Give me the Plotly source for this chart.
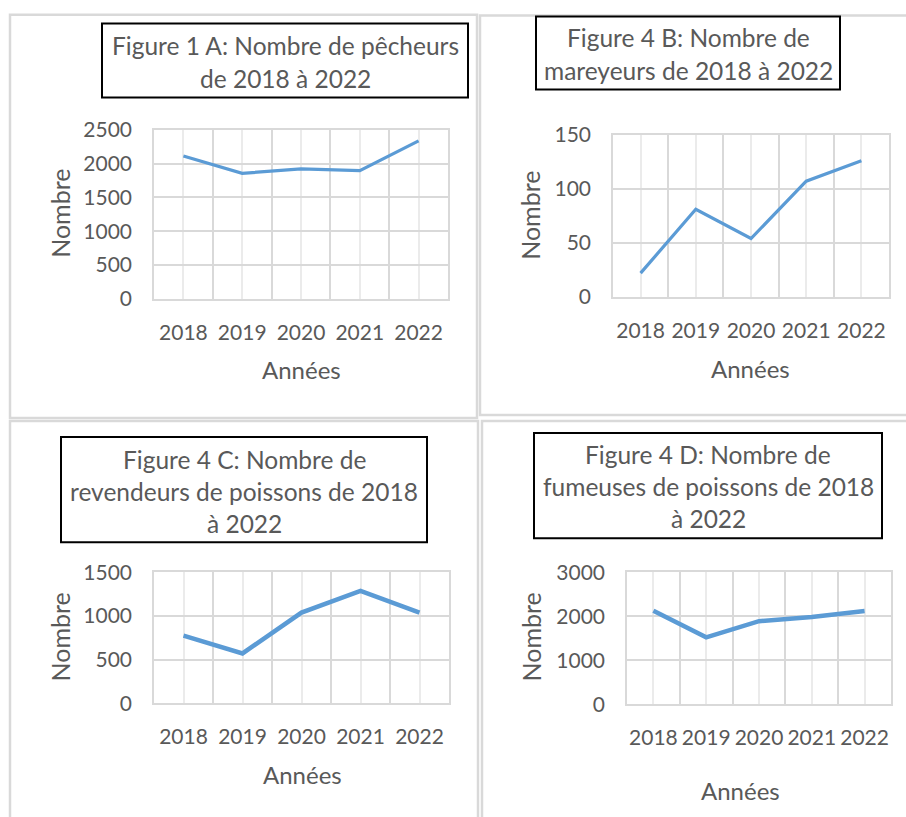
import plotly.graph_objects as go

# ---------------- data ----------------
years = [2018, 2019, 2020, 2021, 2022]
pecheurs = [2110, 1855, 1920, 1895, 2335]
mareyeurs = [22, 81, 54, 107, 126]
revendeurs = [775, 572, 1040, 1288, 1038]
fumeuses = [2130, 1525, 1890, 1985, 2120]

title_a = ["Figure 1 A: Nombre de pêcheurs", "de 2018 à 2022"]
title_b = ["Figure 4 B: Nombre de", "mareyeurs de 2018 à 2022"]
title_c = ["Figure 4 C: Nombre de", "revendeurs de poissons de 2018", "à 2022"]
title_d = ["Figure 4 D: Nombre de", "fumeuses de poissons de 2018", "à 2022"]
y_title = "Nombre"
x_title = "Années"
y_max = [2500, 150, 1500, 3000]
y_step = [500, 50, 500, 1000]

# ---------------- layout geometry (pixels) ----------------
W, H = 906, 817
OY, SY = 15.5, 0.968   # vertical correction of the captured picture
panels = [
    dict(series=pecheurs, lines=title_a, plot=(154, 448, 131, 300), box=(102, 468, 25, 99),
         line_y=(47, 80), ytitle=(60, 215), xtitle=(301, 370), frame=(10, 477, 12, 419), lw=3.2),
    dict(series=mareyeurs, lines=title_b, plot=(613, 889, 136, 298), box=(536, 840, 18, 91),
         line_y=(39, 72), ytitle=(530, 217), xtitle=(750, 369), frame=(480, 912, 17, 416), lw=3.2),
    dict(series=revendeurs, lines=title_c, plot=(154, 449, 573, 704), box=(61, 427, 438, 543),
         line_y=(460, 492, 524), ytitle=(60, 638), xtitle=(302, 775), frame=(10, 478, 422, 840), lw=4.5),
    dict(series=fumeuses, lines=title_d, plot=(627, 891, 573, 705), box=(534, 882, 434, 539),
         line_y=(455, 487, 519), ytitle=(531, 638), xtitle=(740, 791), frame=(482, 912, 422, 840), lw=4.5),
]

FONT = "Lato, 'Open Sans', sans-serif"
TXT = "#595959"
GRID = "#d9d9d9"
GRID_LIGHT = "#ebebeb"
BLUE = "#5b9bd5"


def fx(x):
    return x / W


def fy(y):
    return 1 - ((y - OY) / SY) / H


fig = go.Figure()
shapes = []
annotations = []

for i, p in enumerate(panels):
    n = "" if i == 0 else str(i + 1)
    xa, ya = "x" + n, "y" + n
    fig.add_trace(go.Scatter(
        x=years, y=p["series"], mode="lines", xaxis=xa, yaxis=ya,
        line=dict(color=BLUE, width=p["lw"]), showlegend=False, hoverinfo="x+y"))
    x0, x1, y0, y1 = p["plot"]
    fig.update_layout(**{
        "xaxis" + n: dict(
            domain=[fx(x0), fx(x1)], anchor=ya, range=[years[0] - 0.5, years[-1] + 0.5],
            tickmode="array", tickvals=years, ticktext=[str(v) for v in years],
            showgrid=True, gridcolor=GRID_LIGHT, gridwidth=1.5,
            minor=dict(showgrid=True, tickmode="linear", tick0=years[0] - 0.5, dtick=1,
                       gridcolor=GRID, gridwidth=1.5),
            showline=True, linecolor=GRID, linewidth=1.5, mirror=True,
            ticks="", ticklabelstandoff=14, zeroline=False, fixedrange=True,
            tickfont=dict(family=FONT, size=21, color=TXT)),
        "yaxis" + n: dict(
            domain=[fy(y1), fy(y0)], anchor=xa, range=[0, y_max[i]],
            tickmode="linear", tick0=0, dtick=y_step[i],
            showgrid=True, gridcolor=GRID, gridwidth=1.5,
            showline=True, linecolor=GRID, linewidth=1.5, mirror=True,
            ticks="", ticklabelstandoff=16, zeroline=False, fixedrange=True,
            tickfont=dict(family=FONT, size=21, color=TXT)),
    })
    # panel frame
    fx0, fx1, fy0, fy1 = p["frame"]
    shapes.append(dict(type="rect", xref="paper", yref="paper",
                       x0=fx(fx0), x1=fx(fx1), y0=fy(fy1), y1=min(fy(fy0), 0.999),
                       line=dict(color=GRID, width=2.5), layer="below"))
    # title box
    bx0, bx1, by0, by1 = p["box"]
    shapes.append(dict(type="rect", xref="paper", yref="paper",
                       x0=fx(bx0), x1=fx(bx1), y0=fy(by1), y1=fy(by0),
                       line=dict(color="black", width=2), fillcolor="white"))
    for line, ly in zip(p["lines"], p["line_y"]):
        annotations.append(dict(text=line, xref="paper", yref="paper",
                                x=fx((bx0 + bx1) / 2), y=fy(ly), xanchor="center", yanchor="middle",
                                showarrow=False, font=dict(family=FONT, size=24.5, color=TXT)))
    tx, ty = p["ytitle"]
    annotations.append(dict(text=y_title, xref="paper", yref="paper", x=fx(tx), y=fy(ty),
                            xanchor="center", yanchor="middle", textangle=-90, showarrow=False,
                            font=dict(family=FONT, size=25, color=TXT)))
    tx, ty = p["xtitle"]
    annotations.append(dict(text=x_title, xref="paper", yref="paper", x=fx(tx), y=fy(ty),
                            xanchor="center", yanchor="middle", showarrow=False,
                            font=dict(family=FONT, size=24, color=TXT)))

fig.update_layout(width=W, height=H, margin=dict(l=0, r=0, t=0, b=0),
                  paper_bgcolor="white", plot_bgcolor="white",
                  shapes=shapes, annotations=annotations, showlegend=False)

fig.write_html(
    "out.html",
    config={"displayModeBar": False, "responsive": False},
    post_script=(
        "document.body.style.margin='0';document.body.style.overflow='hidden';"
        "var d=document.getElementById('{plot_id}');"
        "d.style.position='fixed';d.style.top='0px';d.style.left='0px';"
    ),
)
